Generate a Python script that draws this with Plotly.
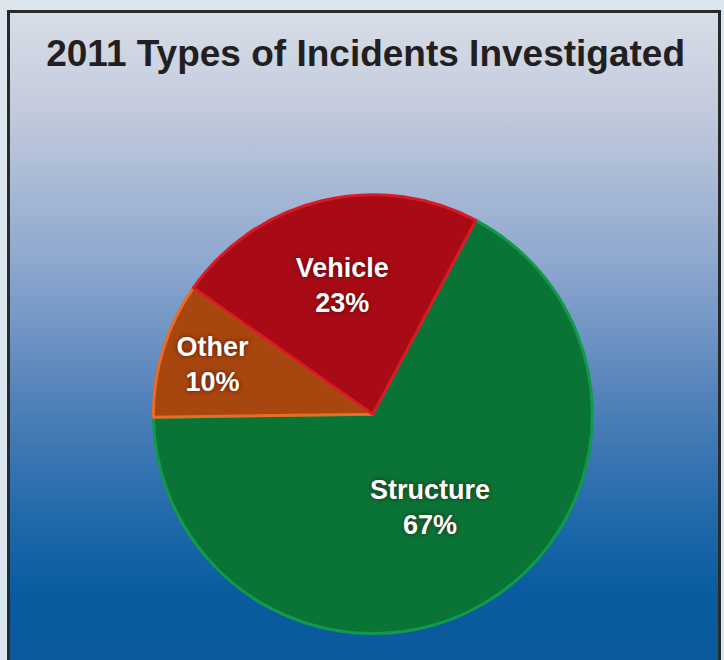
import base64
import plotly.graph_objects as go

# ---- data ----
categories = ["Structure", "Other", "Vehicle"]
values = [67, 10, 23]
title_text = "2011 Types of Incidents Investigated"

# ---- styling ----
slice_colors = ["#0A7437", "#A8460F", "#A80B15"]
edge_colors = ["#109A4A", "#EC6A22", "#D81A24"]

W, H = 724, 660

svg = f'''<svg xmlns="http://www.w3.org/2000/svg" width="{W}" height="{H}" viewBox="0 0 {W} {H}" preserveAspectRatio="none">
<defs><linearGradient id="g" x1="0" y1="0" x2="0" y2="1">
<stop offset="0" stop-color="#D8DEE7"/>
<stop offset="0.15" stop-color="#C3CBDD"/>
<stop offset="0.38" stop-color="#8EA8CF"/>
<stop offset="0.6" stop-color="#4F80B9"/>
<stop offset="0.78" stop-color="#1D68A9"/>
<stop offset="0.88" stop-color="#0A5C9F"/>
<stop offset="1" stop-color="#0A5A9C"/>
</linearGradient></defs>
<rect x="0" y="0" width="{W}" height="{H}" fill="#DCE6EE"/>
<rect x="7" y="10" width="713" height="{H}" fill="url(#g)"/>
</svg>'''
bg_uri = "data:image/svg+xml;base64," + base64.b64encode(svg.encode()).decode()

fig = go.Figure()

fig.add_trace(go.Pie(
    labels=categories,
    values=values,
    sort=False,
    direction="clockwise",
    rotation=28,
    marker=dict(colors=slice_colors, line=dict(color=edge_colors, width=3)),
    texttemplate="<b>%{label}<br>%{percent:.0%}</b>",
    textposition="inside",
    insidetextorientation="horizontal",
    textfont=dict(family="Liberation Sans, Arial, sans-serif", size=27, color="white",
                  shadow="0px 0px 5px rgba(60,0,0,0.7)"),
    hoverinfo="label+percent",
    showlegend=False,
    domain=dict(x=[0.19, 0.84], y=[0.04, 0.705]),
))

fig.update_layout(
    width=W, height=H,
    margin=dict(l=0, r=0, t=0, b=0),
    paper_bgcolor="#DCE6EE",
    plot_bgcolor="rgba(0,0,0,0)",
    title=dict(
        text="<b>" + title_text + "</b>",
        x=0.505, xanchor="center",
        y=1 - 53 / H, yanchor="middle",
        font=dict(family="Liberation Sans, Arial, sans-serif",
                  size=37, color="#231F20"),
    ),
    images=[dict(source=bg_uri, xref="paper", yref="paper", x=0, y=1,
                 sizex=1, sizey=1, sizing="stretch", layer="below",
                 xanchor="left", yanchor="top")],
    shapes=[dict(type="rect", xref="paper", yref="paper",
                 x0=8.5 / W, x1=719.5 / W, y0=-0.02, y1=1 - 11.5 / H,
                 line=dict(color="#2A2A2A", width=3), fillcolor="rgba(0,0,0,0)",
                 layer="above")],
)

fig.write_html("out.html", config={"displayModeBar": False},
               post_script="document.body.style.margin='0';")
